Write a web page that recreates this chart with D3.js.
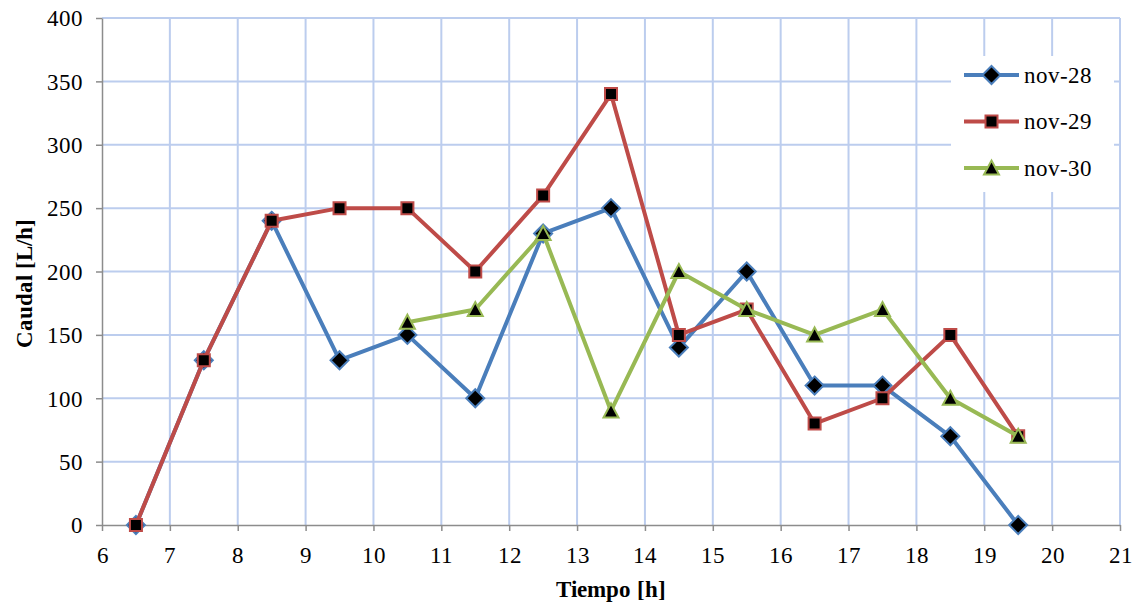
<!DOCTYPE html>
<html>
<head>
<meta charset="utf-8">
<script src="https://cdn.jsdelivr.net/npm/d3@7"></script>
<style>
  @font-face {
    font-family: "ChartSerif";
    src: local("Liberation Serif"), local("LiberationSerif"), local("Times New Roman");
    font-weight: normal;
  }
  @font-face {
    font-family: "ChartSerif";
    src: local("Liberation Serif Bold"), local("LiberationSerif-Bold"), local("Times New Roman Bold");
    font-weight: bold;
  }
  html, body { margin: 0; padding: 0; background: #fff; }
  svg { display: block; }
  svg text { font-family: "ChartSerif", "Liberation Serif", "Times New Roman", serif; font-size: 23px; fill: #000; }
  svg text.title { font-weight: bold; }
</style>
</head>
<body>
<svg id="chart" width="1136" height="605"></svg>
<script>
// Hourly flow readings (L/h) for three days
const hours28 = [6.5, 7.5, 8.5, 9.5, 10.5, 11.5, 12.5, 13.5, 14.5, 15.5, 16.5, 17.5, 18.5, 19.5];
const flow28  = [0, 130, 240, 130, 150, 100, 230, 250, 140, 200, 110, 110, 70, 0];
const hours29 = [6.5, 7.5, 8.5, 9.5, 10.5, 11.5, 12.5, 13.5, 14.5, 15.5, 16.5, 17.5, 18.5, 19.5];
const flow29  = [0, 130, 240, 250, 250, 200, 260, 340, 150, 170, 80, 100, 150, 70];
const hours30 = [10.5, 11.5, 12.5, 13.5, 14.5, 15.5, 16.5, 17.5, 18.5, 19.5];
const flow30  = [160, 170, 230, 90, 200, 170, 150, 170, 100, 70];
const seriesNames = ["nov-28", "nov-29", "nov-30"];
const xTicks = [6, 7, 8, 9, 10, 11, 12, 13, 14, 15, 16, 17, 18, 19, 20, 21];
const yTicks = [0, 50, 100, 150, 200, 250, 300, 350, 400];

const series = [
  { name: seriesNames[0], xs: hours28, ys: flow28, color: "#4a7ebb", symbol: "diamond" },
  { name: seriesNames[1], xs: hours29, ys: flow29, color: "#be4b48", symbol: "square" },
  { name: seriesNames[2], xs: hours30, ys: flow30, color: "#98b954", symbol: "triangle" }
];

const svg = d3.select("#chart");
const plotLeft = 102, plotRight = 1120, plotTop = 18, plotBottom = 525;

const x = d3.scaleLinear().domain([6, 21]).range([plotLeft, plotRight]);
const y = d3.scaleLinear().domain([0, 400]).range([plotBottom, plotTop]);

const gridColor = "#bccdee";
const axisColor = "#8c8c8c";

// Grid
const grid = svg.append("g");
grid.selectAll("line.v").data(xTicks.slice(1)).join("line")
  .attr("x1", d => x(d)).attr("x2", d => x(d))
  .attr("y1", plotTop).attr("y2", plotBottom)
  .attr("stroke", gridColor).attr("stroke-width", 2);
grid.selectAll("line.h").data(yTicks.slice(1)).join("line")
  .attr("x1", plotLeft).attr("x2", plotRight)
  .attr("y1", d => y(d)).attr("y2", d => y(d))
  .attr("stroke", gridColor).attr("stroke-width", 2);

// Axes
const xAxis = svg.append("g").attr("transform", `translate(0,${plotBottom})`)
  .call(d3.axisBottom(x).tickValues(xTicks).tickSize(6).tickSizeOuter(0));
const yAxis = svg.append("g").attr("transform", `translate(${plotLeft},0)`)
  .call(d3.axisLeft(y).tickValues(yTicks).tickSize(6).tickSizeOuter(0));
[xAxis, yAxis].forEach(a => {
  a.attr("font-family", null).attr("font-size", null);
  a.select(".domain").attr("stroke", axisColor).attr("stroke-width", 1.5);
  a.selectAll(".tick line").attr("stroke", axisColor).attr("stroke-width", 1.5);
  a.selectAll(".tick text").attr("fill", null);
});
xAxis.selectAll(".tick text").attr("x", 0).attr("y", 38).attr("dy", null);
yAxis.selectAll(".tick text").attr("x", -19).attr("dy", "0.34em");

// Axis titles
svg.append("text").attr("class", "title")
  .attr("x", 611).attr("y", 597)
  .attr("text-anchor", "middle")
  .text("Tiempo [h]");
svg.append("text").attr("class", "title")
  .attr("transform", `translate(32,283) rotate(-90)`)
  .attr("text-anchor", "middle")
  .text("Caudal [L/h]");

// Markers: diamond, square, triangle centred on the data point
const markerPaths = {
  diamond: "M0,-9L9,0L0,9L-9,0Z",
  square: "M-6,-6H6V6H-6Z",
  triangle: "M0,-7.5L7.5,6.5H-7.5Z"
};

function marker(sel, s) {
  sel.attr("d", markerPaths[s.symbol])
    .attr("fill", "#000").attr("stroke", s.color).attr("stroke-width", 2)
    .attr("stroke-linejoin", "miter");
}

const line = d3.line().x(d => x(d[0])).y(d => y(d[1]));

series.forEach(s => {
  const pts = s.xs.map((v, i) => [v, s.ys[i]]);
  const g = svg.append("g");
  g.append("path").datum(pts).attr("d", line)
    .attr("fill", "none").attr("stroke", s.color).attr("stroke-width", 4)
    .attr("stroke-linejoin", "round");
  g.selectAll("path.m").data(pts).join("path").attr("class", "m")
    .attr("transform", d => `translate(${x(d[0])},${y(d[1])})`)
    .call(marker, s);
});

// Legend
const lg = svg.append("g");
lg.append("rect").attr("x", 951).attr("y", 56).attr("width", 163).attr("height", 136).attr("fill", "#fff");
series.forEach((s, i) => {
  const cy = 75 + i * 46.5;
  lg.append("line").attr("x1", 964).attr("x2", 1019).attr("y1", cy).attr("y2", cy)
    .attr("stroke", s.color).attr("stroke-width", 4);
  lg.append("path").attr("transform", `translate(991.5,${cy})`).call(marker, s);
  lg.append("text").attr("x", 1024).attr("y", cy)
    .attr("dy", "0.34em")
    .text(s.name);
});
</script>
</body>
</html>
